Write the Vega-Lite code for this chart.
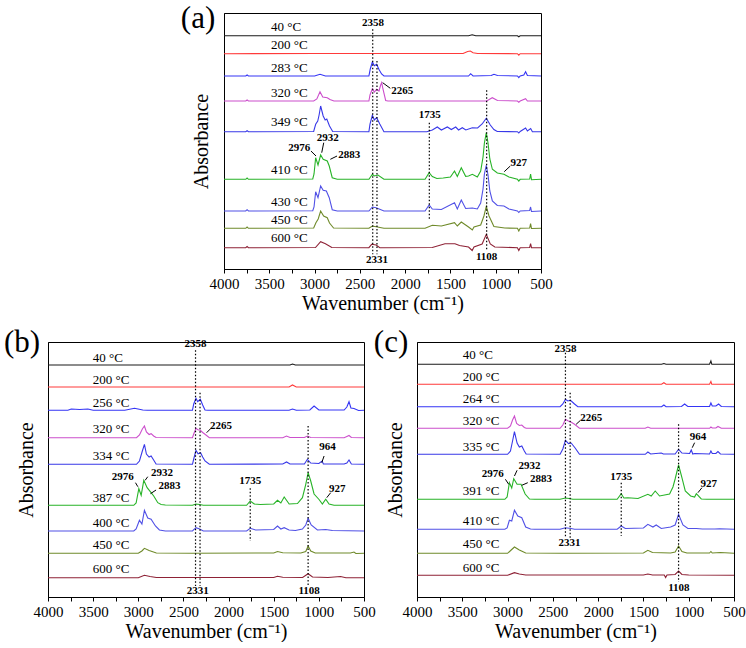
{
"$schema": "https://vega.github.io/schema/vega-lite/v6.json",
"background": "white",
"padding": {"left": 3, "top": 2, "right": 0, "bottom": 0},
"spacing": 12,
"config": {
  "font": "Liberation Serif, Times New Roman, serif",
  "axis": {"grid": false, "domainColor": "black", "tickColor": "black", "labelColor": "black", "titleColor": "black", "labelFont": "Liberation Serif, Times New Roman, serif", "titleFont": "Liberation Serif, Times New Roman, serif", "labelFontSize": 15, "titleFontSize": 20, "titleFontWeight": "normal"},
  "text": {"font": "Liberation Serif, Times New Roman, serif", "color": "black"}
},
"datasets": {
"spec": [
{"p":"a","k":1,"x":4000,"y":233.3},{"p":"a","k":1,"x":1300,"y":233.3},{"p":"a","k":1,"x":1260,"y":234.3},{"p":"a","k":1,"x":1220,"y":233.3},{"p":"a","k":1,"x":760,"y":233.3},{"p":"a","k":1,"x":745,"y":232.3},{"p":"a","k":1,"x":730,"y":233.3},{"p":"a","k":1,"x":500,"y":233.3},
{"p":"a","k":2,"x":4000,"y":215.3},{"p":"a","k":2,"x":3000,"y":215.5},{"p":"a","k":2,"x":1360,"y":215.5},{"p":"a","k":2,"x":1310,"y":217.5},{"p":"a","k":2,"x":1280,"y":218},{"p":"a","k":2,"x":1250,"y":216.3},{"p":"a","k":2,"x":1200,"y":215.5},{"p":"a","k":2,"x":760,"y":215.3},{"p":"a","k":2,"x":745,"y":213.8},{"p":"a","k":2,"x":730,"y":215.3},{"p":"a","k":2,"x":500,"y":215.3},
{"p":"a","k":3,"x":4000,"y":193},{"p":"a","k":3,"x":3760,"y":193},{"p":"a","k":3,"x":3745,"y":194},{"p":"a","k":3,"x":3730,"y":193},{"p":"a","k":3,"x":3000,"y":193},{"p":"a","k":3,"x":2940,"y":194.7},{"p":"a","k":3,"x":2880,"y":193},{"p":"a","k":3,"x":2400,"y":193},{"p":"a","k":3,"x":2385,"y":200},{"p":"a","k":3,"x":2362,"y":207},{"p":"a","k":3,"x":2340,"y":203.3},{"p":"a","k":3,"x":2315,"y":204.7},{"p":"a","k":3,"x":2290,"y":199.7},{"p":"a","k":3,"x":2260,"y":195},{"p":"a","k":3,"x":2234,"y":193},{"p":"a","k":3,"x":1300,"y":193},{"p":"a","k":3,"x":1277,"y":195.3},{"p":"a","k":3,"x":1250,"y":193},{"p":"a","k":3,"x":1050,"y":193.5},{"p":"a","k":3,"x":1019,"y":194.7},{"p":"a","k":3,"x":980,"y":193.5},{"p":"a","k":3,"x":760,"y":193},{"p":"a","k":3,"x":745,"y":191.3},{"p":"a","k":3,"x":730,"y":193},{"p":"a","k":3,"x":690,"y":194},{"p":"a","k":3,"x":670,"y":197.3},{"p":"a","k":3,"x":650,"y":193.5},{"p":"a","k":3,"x":500,"y":193},
{"p":"a","k":4,"x":4000,"y":168},{"p":"a","k":4,"x":3760,"y":168},{"p":"a","k":4,"x":3745,"y":169},{"p":"a","k":4,"x":3730,"y":168},{"p":"a","k":4,"x":3010,"y":168},{"p":"a","k":4,"x":2975,"y":170},{"p":"a","k":4,"x":2940,"y":177.3},{"p":"a","k":4,"x":2910,"y":172},{"p":"a","k":4,"x":2860,"y":171.3},{"p":"a","k":4,"x":2830,"y":169.5},{"p":"a","k":4,"x":2786,"y":168},{"p":"a","k":4,"x":2400,"y":168},{"p":"a","k":4,"x":2388,"y":174},{"p":"a","k":4,"x":2362,"y":180.3},{"p":"a","k":4,"x":2340,"y":177},{"p":"a","k":4,"x":2315,"y":179.7},{"p":"a","k":4,"x":2289,"y":178},{"p":"a","k":4,"x":2270,"y":184},{"p":"a","k":4,"x":2259,"y":186.3},{"p":"a","k":4,"x":2245,"y":180},{"p":"a","k":4,"x":2215,"y":168.5},{"p":"a","k":4,"x":2190,"y":168},{"p":"a","k":4,"x":1100,"y":168},{"p":"a","k":4,"x":1038,"y":171.3},{"p":"a","k":4,"x":980,"y":168.5},{"p":"a","k":4,"x":760,"y":168},{"p":"a","k":4,"x":745,"y":166.7},{"p":"a","k":4,"x":730,"y":168},{"p":"a","k":4,"x":670,"y":170.3},{"p":"a","k":4,"x":650,"y":168},{"p":"a","k":4,"x":500,"y":168},
{"p":"a","k":5,"x":4000,"y":137.3},{"p":"a","k":5,"x":3760,"y":137.3},{"p":"a","k":5,"x":3745,"y":138.3},{"p":"a","k":5,"x":3730,"y":137.3},{"p":"a","k":5,"x":3010,"y":137.5},{"p":"a","k":5,"x":2988,"y":144.7},{"p":"a","k":5,"x":2965,"y":148},{"p":"a","k":5,"x":2950,"y":154},{"p":"a","k":5,"x":2933,"y":163},{"p":"a","k":5,"x":2905,"y":153},{"p":"a","k":5,"x":2883,"y":149},{"p":"a","k":5,"x":2865,"y":150},{"p":"a","k":5,"x":2835,"y":143},{"p":"a","k":5,"x":2800,"y":137.5},{"p":"a","k":5,"x":2400,"y":137.3},{"p":"a","k":5,"x":2388,"y":145},{"p":"a","k":5,"x":2362,"y":153.7},{"p":"a","k":5,"x":2340,"y":149},{"p":"a","k":5,"x":2315,"y":151.3},{"p":"a","k":5,"x":2280,"y":145},{"p":"a","k":5,"x":2234,"y":137.3},{"p":"a","k":5,"x":1760,"y":137.3},{"p":"a","k":5,"x":1700,"y":139},{"p":"a","k":5,"x":1645,"y":142},{"p":"a","k":5,"x":1600,"y":139},{"p":"a","k":5,"x":1534,"y":142},{"p":"a","k":5,"x":1490,"y":139.5},{"p":"a","k":5,"x":1442,"y":142},{"p":"a","k":5,"x":1410,"y":139},{"p":"a","k":5,"x":1369,"y":141.3},{"p":"a","k":5,"x":1330,"y":139},{"p":"a","k":5,"x":1258,"y":141.3},{"p":"a","k":5,"x":1200,"y":141},{"p":"a","k":5,"x":1150,"y":145},{"p":"a","k":5,"x":1104,"y":150.7},{"p":"a","k":5,"x":1060,"y":144},{"p":"a","k":5,"x":1020,"y":139.5},{"p":"a","k":5,"x":983,"y":137.5},{"p":"a","k":5,"x":760,"y":137.3},{"p":"a","k":5,"x":745,"y":136},{"p":"a","k":5,"x":730,"y":137.5},{"p":"a","k":5,"x":670,"y":141},{"p":"a","k":5,"x":650,"y":138},{"p":"a","k":5,"x":614,"y":140.5},{"p":"a","k":5,"x":595,"y":137.3},{"p":"a","k":5,"x":500,"y":137.3},
{"p":"a","k":6,"x":4000,"y":89.7},{"p":"a","k":6,"x":3760,"y":89.7},{"p":"a","k":6,"x":3745,"y":91},{"p":"a","k":6,"x":3730,"y":89.7},{"p":"a","k":6,"x":3020,"y":90},{"p":"a","k":6,"x":3006,"y":95},{"p":"a","k":6,"x":2988,"y":111.3},{"p":"a","k":6,"x":2962,"y":104},{"p":"a","k":6,"x":2933,"y":114},{"p":"a","k":6,"x":2905,"y":109.7},{"p":"a","k":6,"x":2860,"y":108},{"p":"a","k":6,"x":2838,"y":103},{"p":"a","k":6,"x":2805,"y":91.3},{"p":"a","k":6,"x":2750,"y":89.7},{"p":"a","k":6,"x":2400,"y":89.7},{"p":"a","k":6,"x":2362,"y":94.7},{"p":"a","k":6,"x":2340,"y":93},{"p":"a","k":6,"x":2300,"y":94},{"p":"a","k":6,"x":2234,"y":89.7},{"p":"a","k":6,"x":1780,"y":89.7},{"p":"a","k":6,"x":1735,"y":96.3},{"p":"a","k":6,"x":1700,"y":92.5},{"p":"a","k":6,"x":1650,"y":90.5},{"p":"a","k":6,"x":1580,"y":91},{"p":"a","k":6,"x":1500,"y":92},{"p":"a","k":6,"x":1455,"y":98},{"p":"a","k":6,"x":1424,"y":92.5},{"p":"a","k":6,"x":1380,"y":101.3},{"p":"a","k":6,"x":1332,"y":92.7},{"p":"a","k":6,"x":1300,"y":93},{"p":"a","k":6,"x":1258,"y":94.7},{"p":"a","k":6,"x":1203,"y":92},{"p":"a","k":6,"x":1166,"y":98},{"p":"a","k":6,"x":1140,"y":112},{"p":"a","k":6,"x":1125,"y":126},{"p":"a","k":6,"x":1104,"y":136.3},{"p":"a","k":6,"x":1085,"y":126},{"p":"a","k":6,"x":1065,"y":110},{"p":"a","k":6,"x":1037,"y":99.7},{"p":"a","k":6,"x":982,"y":96},{"p":"a","k":6,"x":909,"y":94.7},{"p":"a","k":6,"x":854,"y":92},{"p":"a","k":6,"x":760,"y":89.7},{"p":"a","k":6,"x":745,"y":88},{"p":"a","k":6,"x":730,"y":89.7},{"p":"a","k":6,"x":625,"y":90},{"p":"a","k":6,"x":615,"y":95},{"p":"a","k":6,"x":605,"y":89.3},{"p":"a","k":6,"x":500,"y":89.7},
{"p":"a","k":7,"x":4000,"y":58},{"p":"a","k":7,"x":3760,"y":58},{"p":"a","k":7,"x":3745,"y":59.3},{"p":"a","k":7,"x":3730,"y":58},{"p":"a","k":7,"x":3020,"y":58.3},{"p":"a","k":7,"x":3006,"y":62},{"p":"a","k":7,"x":2988,"y":77.3},{"p":"a","k":7,"x":2962,"y":71.3},{"p":"a","k":7,"x":2933,"y":83},{"p":"a","k":7,"x":2905,"y":78.7},{"p":"a","k":7,"x":2870,"y":78},{"p":"a","k":7,"x":2838,"y":71.3},{"p":"a","k":7,"x":2805,"y":59.3},{"p":"a","k":7,"x":2750,"y":58},{"p":"a","k":7,"x":2400,"y":58},{"p":"a","k":7,"x":2362,"y":62},{"p":"a","k":7,"x":2320,"y":61.3},{"p":"a","k":7,"x":2234,"y":58},{"p":"a","k":7,"x":1780,"y":58},{"p":"a","k":7,"x":1735,"y":64},{"p":"a","k":7,"x":1700,"y":60},{"p":"a","k":7,"x":1600,"y":59.5},{"p":"a","k":7,"x":1455,"y":66.3},{"p":"a","k":7,"x":1424,"y":60},{"p":"a","k":7,"x":1380,"y":69},{"p":"a","k":7,"x":1332,"y":60.5},{"p":"a","k":7,"x":1258,"y":61},{"p":"a","k":7,"x":1203,"y":60},{"p":"a","k":7,"x":1166,"y":66},{"p":"a","k":7,"x":1140,"y":80},{"p":"a","k":7,"x":1125,"y":95},{"p":"a","k":7,"x":1104,"y":103.7},{"p":"a","k":7,"x":1085,"y":94},{"p":"a","k":7,"x":1065,"y":78},{"p":"a","k":7,"x":1037,"y":68},{"p":"a","k":7,"x":982,"y":63.5},{"p":"a","k":7,"x":909,"y":63},{"p":"a","k":7,"x":854,"y":60},{"p":"a","k":7,"x":760,"y":58},{"p":"a","k":7,"x":745,"y":56.5},{"p":"a","k":7,"x":730,"y":58},{"p":"a","k":7,"x":625,"y":58.5},{"p":"a","k":7,"x":615,"y":62},{"p":"a","k":7,"x":605,"y":57.5},{"p":"a","k":7,"x":500,"y":58},
{"p":"a","k":8,"x":4000,"y":40.7},{"p":"a","k":8,"x":3760,"y":40.7},{"p":"a","k":8,"x":3745,"y":42},{"p":"a","k":8,"x":3730,"y":40.7},{"p":"a","k":8,"x":3010,"y":41},{"p":"a","k":8,"x":2985,"y":46.3},{"p":"a","k":8,"x":2960,"y":50},{"p":"a","k":8,"x":2933,"y":58},{"p":"a","k":8,"x":2900,"y":53},{"p":"a","k":8,"x":2860,"y":51.3},{"p":"a","k":8,"x":2835,"y":46},{"p":"a","k":8,"x":2790,"y":41},{"p":"a","k":8,"x":2400,"y":40.7},{"p":"a","k":8,"x":2362,"y":43},{"p":"a","k":8,"x":2320,"y":42.3},{"p":"a","k":8,"x":2234,"y":40.7},{"p":"a","k":8,"x":1780,"y":40.7},{"p":"a","k":8,"x":1700,"y":43.7},{"p":"a","k":8,"x":1600,"y":43},{"p":"a","k":8,"x":1455,"y":46.3},{"p":"a","k":8,"x":1424,"y":43},{"p":"a","k":8,"x":1380,"y":47},{"p":"a","k":8,"x":1300,"y":42},{"p":"a","k":8,"x":1258,"y":39},{"p":"a","k":8,"x":1240,"y":42},{"p":"a","k":8,"x":1166,"y":44},{"p":"a","k":8,"x":1130,"y":53},{"p":"a","k":8,"x":1104,"y":62.7},{"p":"a","k":8,"x":1074,"y":53},{"p":"a","k":8,"x":1020,"y":42.5},{"p":"a","k":8,"x":900,"y":41},{"p":"a","k":8,"x":760,"y":40.7},{"p":"a","k":8,"x":745,"y":38},{"p":"a","k":8,"x":730,"y":40.7},{"p":"a","k":8,"x":625,"y":41},{"p":"a","k":8,"x":615,"y":45.3},{"p":"a","k":8,"x":605,"y":40.5},{"p":"a","k":8,"x":500,"y":40.7},
{"p":"a","k":9,"x":4000,"y":21.3},{"p":"a","k":9,"x":3760,"y":21.3},{"p":"a","k":9,"x":3745,"y":22.5},{"p":"a","k":9,"x":3730,"y":21.3},{"p":"a","k":9,"x":2990,"y":21.5},{"p":"a","k":9,"x":2933,"y":27.3},{"p":"a","k":9,"x":2880,"y":25.3},{"p":"a","k":9,"x":2810,"y":21.5},{"p":"a","k":9,"x":2400,"y":21.3},{"p":"a","k":9,"x":2370,"y":24.7},{"p":"a","k":9,"x":2320,"y":24},{"p":"a","k":9,"x":2280,"y":21.3},{"p":"a","k":9,"x":1700,"y":21.5},{"p":"a","k":9,"x":1560,"y":25.3},{"p":"a","k":9,"x":1450,"y":25.3},{"p":"a","k":9,"x":1400,"y":23.5},{"p":"a","k":9,"x":1300,"y":22},{"p":"a","k":9,"x":1260,"y":18.5},{"p":"a","k":9,"x":1240,"y":22},{"p":"a","k":9,"x":1150,"y":25},{"p":"a","k":9,"x":1104,"y":34.7},{"p":"a","k":9,"x":1060,"y":25},{"p":"a","k":9,"x":1010,"y":22},{"p":"a","k":9,"x":760,"y":21.3},{"p":"a","k":9,"x":745,"y":18.5},{"p":"a","k":9,"x":730,"y":21.3},{"p":"a","k":9,"x":625,"y":21.5},{"p":"a","k":9,"x":615,"y":25.3},{"p":"a","k":9,"x":605,"y":21.3},{"p":"a","k":9,"x":500,"y":21.3},

{"p":"b","k":1,"x":4000,"y":232},{"p":"b","k":1,"x":1320,"y":232},{"p":"b","k":1,"x":1292,"y":233},{"p":"b","k":1,"x":1260,"y":232},{"p":"b","k":1,"x":500,"y":232},
{"p":"b","k":2,"x":4000,"y":210},{"p":"b","k":2,"x":1330,"y":210},{"p":"b","k":2,"x":1292,"y":212},{"p":"b","k":2,"x":1250,"y":210},{"p":"b","k":2,"x":500,"y":210},
{"p":"b","k":3,"x":4000,"y":186.7},{"p":"b","k":3,"x":3780,"y":186.7},{"p":"b","k":3,"x":3742,"y":188},{"p":"b","k":3,"x":3650,"y":187.5},{"p":"b","k":3,"x":3558,"y":188},{"p":"b","k":3,"x":3500,"y":186.7},{"p":"b","k":3,"x":3150,"y":186.7},{"p":"b","k":3,"x":3042,"y":188.7},{"p":"b","k":3,"x":2950,"y":187},{"p":"b","k":3,"x":2900,"y":186.7},{"p":"b","k":3,"x":2400,"y":186.7},{"p":"b","k":3,"x":2386,"y":193},{"p":"b","k":3,"x":2361,"y":198.7},{"p":"b","k":3,"x":2342,"y":195.3},{"p":"b","k":3,"x":2313,"y":197.7},{"p":"b","k":3,"x":2287,"y":192},{"p":"b","k":3,"x":2261,"y":187},{"p":"b","k":3,"x":2230,"y":186.7},{"p":"b","k":3,"x":1330,"y":186.7},{"p":"b","k":3,"x":1292,"y":188},{"p":"b","k":3,"x":1250,"y":186.7},{"p":"b","k":3,"x":1100,"y":187},{"p":"b","k":3,"x":1053,"y":191},{"p":"b","k":3,"x":1000,"y":187},{"p":"b","k":3,"x":720,"y":187},{"p":"b","k":3,"x":690,"y":190},{"p":"b","k":3,"x":666,"y":195.3},{"p":"b","k":3,"x":645,"y":189},{"p":"b","k":3,"x":611,"y":188.5},{"p":"b","k":3,"x":560,"y":186.5},{"p":"b","k":3,"x":500,"y":186.7},
{"p":"b","k":4,"x":4000,"y":159.3},{"p":"b","k":4,"x":3020,"y":159.3},{"p":"b","k":4,"x":2987,"y":162},{"p":"b","k":4,"x":2955,"y":168},{"p":"b","k":4,"x":2932,"y":171},{"p":"b","k":4,"x":2910,"y":165},{"p":"b","k":4,"x":2880,"y":162.5},{"p":"b","k":4,"x":2858,"y":163.3},{"p":"b","k":4,"x":2830,"y":161},{"p":"b","k":4,"x":2803,"y":159.5},{"p":"b","k":4,"x":2400,"y":159.3},{"p":"b","k":4,"x":2386,"y":163},{"p":"b","k":4,"x":2361,"y":168.7},{"p":"b","k":4,"x":2340,"y":167.3},{"p":"b","k":4,"x":2313,"y":166.7},{"p":"b","k":4,"x":2287,"y":164.5},{"p":"b","k":4,"x":2261,"y":162.7},{"p":"b","k":4,"x":2213,"y":159.3},{"p":"b","k":4,"x":1400,"y":159.3},{"p":"b","k":4,"x":1358,"y":161},{"p":"b","k":4,"x":1320,"y":159.5},{"p":"b","k":4,"x":1160,"y":159.5},{"p":"b","k":4,"x":1127,"y":161},{"p":"b","k":4,"x":1090,"y":159.5},{"p":"b","k":4,"x":720,"y":159.3},{"p":"b","k":4,"x":690,"y":160.5},{"p":"b","k":4,"x":666,"y":161.5},{"p":"b","k":4,"x":640,"y":159.5},{"p":"b","k":4,"x":500,"y":159.3},
{"p":"b","k":5,"x":4000,"y":132.7},{"p":"b","k":5,"x":3020,"y":132.7},{"p":"b","k":5,"x":2987,"y":136},{"p":"b","k":5,"x":2955,"y":146},{"p":"b","k":5,"x":2932,"y":152.7},{"p":"b","k":5,"x":2910,"y":143},{"p":"b","k":5,"x":2880,"y":140},{"p":"b","k":5,"x":2858,"y":141},{"p":"b","k":5,"x":2830,"y":137},{"p":"b","k":5,"x":2803,"y":133},{"p":"b","k":5,"x":2400,"y":132.7},{"p":"b","k":5,"x":2386,"y":138},{"p":"b","k":5,"x":2361,"y":146.7},{"p":"b","k":5,"x":2338,"y":143.3},{"p":"b","k":5,"x":2310,"y":144.3},{"p":"b","k":5,"x":2287,"y":140},{"p":"b","k":5,"x":2261,"y":136},{"p":"b","k":5,"x":2213,"y":132.7},{"p":"b","k":5,"x":1400,"y":133},{"p":"b","k":5,"x":1358,"y":135},{"p":"b","k":5,"x":1320,"y":133},{"p":"b","k":5,"x":1160,"y":133},{"p":"b","k":5,"x":1127,"y":137.7},{"p":"b","k":5,"x":1090,"y":134},{"p":"b","k":5,"x":1000,"y":133.5},{"p":"b","k":5,"x":964,"y":136},{"p":"b","k":5,"x":950,"y":133},{"p":"b","k":5,"x":720,"y":133},{"p":"b","k":5,"x":690,"y":134},{"p":"b","k":5,"x":666,"y":137},{"p":"b","k":5,"x":640,"y":133},{"p":"b","k":5,"x":500,"y":132.7},
{"p":"b","k":6,"x":4000,"y":91.7},{"p":"b","k":6,"x":3050,"y":91.7},{"p":"b","k":6,"x":3024,"y":94},{"p":"b","k":6,"x":2994,"y":108.3},{"p":"b","k":6,"x":2968,"y":101.7},{"p":"b","k":6,"x":2939,"y":116.7},{"p":"b","k":6,"x":2902,"y":109.3},{"p":"b","k":6,"x":2858,"y":104.3},{"p":"b","k":6,"x":2829,"y":101},{"p":"b","k":6,"x":2784,"y":94.3},{"p":"b","k":6,"x":2747,"y":92.5},{"p":"b","k":6,"x":2700,"y":92},{"p":"b","k":6,"x":2400,"y":91.7},{"p":"b","k":6,"x":2361,"y":93},{"p":"b","k":6,"x":2320,"y":92.5},{"p":"b","k":6,"x":2280,"y":91.7},{"p":"b","k":6,"x":1800,"y":91.7},{"p":"b","k":6,"x":1760,"y":96},{"p":"b","k":6,"x":1716,"y":93},{"p":"b","k":6,"x":1650,"y":92.5},{"p":"b","k":6,"x":1500,"y":93},{"p":"b","k":6,"x":1458,"y":96.7},{"p":"b","k":6,"x":1421,"y":94},{"p":"b","k":6,"x":1384,"y":100},{"p":"b","k":6,"x":1329,"y":93},{"p":"b","k":6,"x":1237,"y":93.5},{"p":"b","k":6,"x":1182,"y":99.3},{"p":"b","k":6,"x":1145,"y":112.7},{"p":"b","k":6,"x":1119,"y":124.3},{"p":"b","k":6,"x":1090,"y":116},{"p":"b","k":6,"x":1053,"y":103},{"p":"b","k":6,"x":998,"y":97.5},{"p":"b","k":6,"x":961,"y":93},{"p":"b","k":6,"x":924,"y":97.7},{"p":"b","k":6,"x":887,"y":93},{"p":"b","k":6,"x":832,"y":91.7},{"p":"b","k":6,"x":500,"y":91.7},
{"p":"b","k":7,"x":4000,"y":66},{"p":"b","k":7,"x":3050,"y":66},{"p":"b","k":7,"x":3024,"y":68},{"p":"b","k":7,"x":2987,"y":76.7},{"p":"b","k":7,"x":2960,"y":73},{"p":"b","k":7,"x":2932,"y":86.7},{"p":"b","k":7,"x":2895,"y":79},{"p":"b","k":7,"x":2858,"y":77.7},{"p":"b","k":7,"x":2810,"y":71},{"p":"b","k":7,"x":2766,"y":67},{"p":"b","k":7,"x":2700,"y":66},{"p":"b","k":7,"x":2400,"y":66},{"p":"b","k":7,"x":2361,"y":69.3},{"p":"b","k":7,"x":2320,"y":68},{"p":"b","k":7,"x":2280,"y":66},{"p":"b","k":7,"x":1800,"y":66},{"p":"b","k":7,"x":1760,"y":68.7},{"p":"b","k":7,"x":1700,"y":67},{"p":"b","k":7,"x":1500,"y":67.5},{"p":"b","k":7,"x":1458,"y":71},{"p":"b","k":7,"x":1421,"y":68},{"p":"b","k":7,"x":1384,"y":69.3},{"p":"b","k":7,"x":1330,"y":67},{"p":"b","k":7,"x":1260,"y":66.5},{"p":"b","k":7,"x":1182,"y":68},{"p":"b","k":7,"x":1145,"y":72},{"p":"b","k":7,"x":1119,"y":78.7},{"p":"b","k":7,"x":1085,"y":72},{"p":"b","k":7,"x":1016,"y":67},{"p":"b","k":7,"x":924,"y":67.5},{"p":"b","k":7,"x":850,"y":66.5},{"p":"b","k":7,"x":500,"y":66},
{"p":"b","k":8,"x":4000,"y":43.7},{"p":"b","k":8,"x":3000,"y":43.7},{"p":"b","k":8,"x":2960,"y":46},{"p":"b","k":8,"x":2932,"y":48.7},{"p":"b","k":8,"x":2880,"y":46.5},{"p":"b","k":8,"x":2800,"y":44},{"p":"b","k":8,"x":2400,"y":43.7},{"p":"b","k":8,"x":1500,"y":44},{"p":"b","k":8,"x":1458,"y":45.5},{"p":"b","k":8,"x":1400,"y":44.3},{"p":"b","k":8,"x":1200,"y":44},{"p":"b","k":8,"x":1145,"y":45.5},{"p":"b","k":8,"x":1119,"y":51},{"p":"b","k":8,"x":1090,"y":46},{"p":"b","k":8,"x":1040,"y":44},{"p":"b","k":8,"x":650,"y":44},{"p":"b","k":8,"x":611,"y":45},{"p":"b","k":8,"x":590,"y":43.5},{"p":"b","k":8,"x":500,"y":43.7},
{"p":"b","k":9,"x":4000,"y":19.3},{"p":"b","k":9,"x":3000,"y":19.3},{"p":"b","k":9,"x":2932,"y":21.7},{"p":"b","k":9,"x":2870,"y":20.5},{"p":"b","k":9,"x":2800,"y":19.5},{"p":"b","k":9,"x":1500,"y":19.5},{"p":"b","k":9,"x":1458,"y":20.8},{"p":"b","k":9,"x":1400,"y":19.8},{"p":"b","k":9,"x":1180,"y":19.5},{"p":"b","k":9,"x":1119,"y":23.3},{"p":"b","k":9,"x":1070,"y":20},{"p":"b","k":9,"x":900,"y":19.5},{"p":"b","k":9,"x":760,"y":20.5},{"p":"b","k":9,"x":700,"y":19.3},{"p":"b","k":9,"x":500,"y":19.3},

{"p":"c","k":1,"x":4000,"y":232.7},{"p":"c","k":1,"x":1300,"y":232.7},{"p":"c","k":1,"x":1274,"y":233.5},{"p":"c","k":1,"x":1250,"y":232.7},{"p":"c","k":1,"x":770,"y":232.7},{"p":"c","k":1,"x":755,"y":236},{"p":"c","k":1,"x":745,"y":232.7},{"p":"c","k":1,"x":500,"y":232.7},
{"p":"c","k":2,"x":4000,"y":212.7},{"p":"c","k":2,"x":1300,"y":212.7},{"p":"c","k":2,"x":1274,"y":214.3},{"p":"c","k":2,"x":1250,"y":212.7},{"p":"c","k":2,"x":770,"y":212.7},{"p":"c","k":2,"x":755,"y":215.5},{"p":"c","k":2,"x":745,"y":212.7},{"p":"c","k":2,"x":500,"y":212.7},
{"p":"c","k":3,"x":4000,"y":190.3},{"p":"c","k":3,"x":2420,"y":190.3},{"p":"c","k":3,"x":2390,"y":193},{"p":"c","k":3,"x":2361,"y":197.7},{"p":"c","k":3,"x":2335,"y":196},{"p":"c","k":3,"x":2305,"y":196.7},{"p":"c","k":3,"x":2261,"y":193},{"p":"c","k":3,"x":2224,"y":190.3},{"p":"c","k":3,"x":1300,"y":190.3},{"p":"c","k":3,"x":1274,"y":192},{"p":"c","k":3,"x":1250,"y":190.3},{"p":"c","k":3,"x":1080,"y":190.5},{"p":"c","k":3,"x":1045,"y":193},{"p":"c","k":3,"x":1010,"y":190.5},{"p":"c","k":3,"x":770,"y":190.5},{"p":"c","k":3,"x":755,"y":194},{"p":"c","k":3,"x":740,"y":191},{"p":"c","k":3,"x":700,"y":191},{"p":"c","k":3,"x":670,"y":193},{"p":"c","k":3,"x":640,"y":190.5},{"p":"c","k":3,"x":500,"y":190.3},
{"p":"c","k":4,"x":4000,"y":168.7},{"p":"c","k":4,"x":3000,"y":168.7},{"p":"c","k":4,"x":2968,"y":171},{"p":"c","k":4,"x":2945,"y":177},{"p":"c","k":4,"x":2924,"y":181},{"p":"c","k":4,"x":2900,"y":173.5},{"p":"c","k":4,"x":2870,"y":171.5},{"p":"c","k":4,"x":2843,"y":172},{"p":"c","k":4,"x":2815,"y":169.5},{"p":"c","k":4,"x":2795,"y":168.7},{"p":"c","k":4,"x":2420,"y":168.7},{"p":"c","k":4,"x":2390,"y":172},{"p":"c","k":4,"x":2361,"y":177.7},{"p":"c","k":4,"x":2330,"y":176},{"p":"c","k":4,"x":2300,"y":175},{"p":"c","k":4,"x":2261,"y":172.7},{"p":"c","k":4,"x":2206,"y":168.7},{"p":"c","k":4,"x":1480,"y":168.7},{"p":"c","k":4,"x":1451,"y":170},{"p":"c","k":4,"x":1420,"y":168.7},{"p":"c","k":4,"x":770,"y":168.7},{"p":"c","k":4,"x":755,"y":170},{"p":"c","k":4,"x":740,"y":169},{"p":"c","k":4,"x":700,"y":169},{"p":"c","k":4,"x":677,"y":170.5},{"p":"c","k":4,"x":640,"y":168.8},{"p":"c","k":4,"x":500,"y":168.7},
{"p":"c","k":5,"x":4000,"y":142.7},{"p":"c","k":5,"x":3000,"y":142.7},{"p":"c","k":5,"x":2968,"y":146},{"p":"c","k":5,"x":2945,"y":156},{"p":"c","k":5,"x":2924,"y":165.3},{"p":"c","k":5,"x":2895,"y":154},{"p":"c","k":5,"x":2870,"y":150},{"p":"c","k":5,"x":2843,"y":151},{"p":"c","k":5,"x":2815,"y":146},{"p":"c","k":5,"x":2795,"y":143},{"p":"c","k":5,"x":2420,"y":142.7},{"p":"c","k":5,"x":2390,"y":148},{"p":"c","k":5,"x":2361,"y":156.7},{"p":"c","k":5,"x":2327,"y":153.3},{"p":"c","k":5,"x":2298,"y":154},{"p":"c","k":5,"x":2254,"y":149},{"p":"c","k":5,"x":2206,"y":142.7},{"p":"c","k":5,"x":1480,"y":142.7},{"p":"c","k":5,"x":1451,"y":145},{"p":"c","k":5,"x":1420,"y":143},{"p":"c","k":5,"x":1303,"y":144},{"p":"c","k":5,"x":1280,"y":143},{"p":"c","k":5,"x":1150,"y":143},{"p":"c","k":5,"x":1112,"y":147.7},{"p":"c","k":5,"x":1075,"y":144},{"p":"c","k":5,"x":990,"y":143.5},{"p":"c","k":5,"x":972,"y":147},{"p":"c","k":5,"x":955,"y":143},{"p":"c","k":5,"x":935,"y":143.5},{"p":"c","k":5,"x":770,"y":143},{"p":"c","k":5,"x":755,"y":146},{"p":"c","k":5,"x":740,"y":143.5},{"p":"c","k":5,"x":700,"y":143.5},{"p":"c","k":5,"x":677,"y":145.5},{"p":"c","k":5,"x":650,"y":143},{"p":"c","k":5,"x":500,"y":142.7},
{"p":"c","k":6,"x":4000,"y":97.7},{"p":"c","k":6,"x":3030,"y":97.7},{"p":"c","k":6,"x":3005,"y":100},{"p":"c","k":6,"x":2980,"y":114.3},{"p":"c","k":6,"x":2954,"y":109},{"p":"c","k":6,"x":2932,"y":118.3},{"p":"c","k":6,"x":2895,"y":112.7},{"p":"c","k":6,"x":2851,"y":112.7},{"p":"c","k":6,"x":2806,"y":103},{"p":"c","k":6,"x":2758,"y":98},{"p":"c","k":6,"x":2700,"y":97.7},{"p":"c","k":6,"x":2420,"y":97.7},{"p":"c","k":6,"x":2361,"y":99},{"p":"c","k":6,"x":2320,"y":98.5},{"p":"c","k":6,"x":2280,"y":97.7},{"p":"c","k":6,"x":1790,"y":97.7},{"p":"c","k":6,"x":1745,"y":103.3},{"p":"c","k":6,"x":1716,"y":99},{"p":"c","k":6,"x":1672,"y":99.3},{"p":"c","k":6,"x":1560,"y":98.5},{"p":"c","k":6,"x":1451,"y":102.7},{"p":"c","k":6,"x":1414,"y":101},{"p":"c","k":6,"x":1370,"y":106},{"p":"c","k":6,"x":1322,"y":101},{"p":"c","k":6,"x":1211,"y":103},{"p":"c","k":6,"x":1174,"y":110},{"p":"c","k":6,"x":1150,"y":118},{"p":"c","k":6,"x":1112,"y":132},{"p":"c","k":6,"x":1075,"y":119.3},{"p":"c","k":6,"x":1038,"y":106},{"p":"c","k":6,"x":979,"y":101},{"p":"c","k":6,"x":935,"y":100},{"p":"c","k":6,"x":916,"y":103.3},{"p":"c","k":6,"x":861,"y":98},{"p":"c","k":6,"x":800,"y":97.7},{"p":"c","k":6,"x":500,"y":97.7},
{"p":"c","k":7,"x":4000,"y":67.7},{"p":"c","k":7,"x":3030,"y":67.7},{"p":"c","k":7,"x":3005,"y":69},{"p":"c","k":7,"x":2980,"y":76.7},{"p":"c","k":7,"x":2954,"y":76},{"p":"c","k":7,"x":2924,"y":86.7},{"p":"c","k":7,"x":2887,"y":81},{"p":"c","k":7,"x":2843,"y":79.3},{"p":"c","k":7,"x":2800,"y":70},{"p":"c","k":7,"x":2747,"y":68},{"p":"c","k":7,"x":2700,"y":67.7},{"p":"c","k":7,"x":2420,"y":67.7},{"p":"c","k":7,"x":2361,"y":69.3},{"p":"c","k":7,"x":2300,"y":68.5},{"p":"c","k":7,"x":2260,"y":67.7},{"p":"c","k":7,"x":1790,"y":67.7},{"p":"c","k":7,"x":1745,"y":71},{"p":"c","k":7,"x":1700,"y":68.5},{"p":"c","k":7,"x":1500,"y":69},{"p":"c","k":7,"x":1451,"y":72.7},{"p":"c","k":7,"x":1395,"y":70},{"p":"c","k":7,"x":1359,"y":72},{"p":"c","k":7,"x":1303,"y":68.5},{"p":"c","k":7,"x":1200,"y":70},{"p":"c","k":7,"x":1150,"y":72},{"p":"c","k":7,"x":1112,"y":82.7},{"p":"c","k":7,"x":1064,"y":72},{"p":"c","k":7,"x":1009,"y":68.5},{"p":"c","k":7,"x":916,"y":68.5},{"p":"c","k":7,"x":850,"y":68},{"p":"c","k":7,"x":714,"y":68},{"p":"c","k":7,"x":660,"y":68.2},{"p":"c","k":7,"x":500,"y":67.7},
{"p":"c","k":8,"x":4000,"y":43.7},{"p":"c","k":8,"x":3000,"y":43.7},{"p":"c","k":8,"x":2960,"y":47},{"p":"c","k":8,"x":2924,"y":50},{"p":"c","k":8,"x":2870,"y":47},{"p":"c","k":8,"x":2800,"y":44},{"p":"c","k":8,"x":2400,"y":43.7},{"p":"c","k":8,"x":1500,"y":44},{"p":"c","k":8,"x":1451,"y":46.7},{"p":"c","k":8,"x":1400,"y":44.5},{"p":"c","k":8,"x":1200,"y":44},{"p":"c","k":8,"x":1150,"y":45},{"p":"c","k":8,"x":1112,"y":51},{"p":"c","k":8,"x":1075,"y":45.5},{"p":"c","k":8,"x":1020,"y":44},{"p":"c","k":8,"x":770,"y":44},{"p":"c","k":8,"x":755,"y":45.5},{"p":"c","k":8,"x":740,"y":44},{"p":"c","k":8,"x":650,"y":44.5},{"p":"c","k":8,"x":500,"y":43.7},
{"p":"c","k":9,"x":4000,"y":21.7},{"p":"c","k":9,"x":3000,"y":21.7},{"p":"c","k":9,"x":2924,"y":24.3},{"p":"c","k":9,"x":2870,"y":23},{"p":"c","k":9,"x":2800,"y":22},{"p":"c","k":9,"x":1500,"y":22},{"p":"c","k":9,"x":1451,"y":23},{"p":"c","k":9,"x":1400,"y":22},{"p":"c","k":9,"x":1270,"y":22},{"p":"c","k":9,"x":1255,"y":19.5},{"p":"c","k":9,"x":1240,"y":22},{"p":"c","k":9,"x":1150,"y":22.5},{"p":"c","k":9,"x":1112,"y":26},{"p":"c","k":9,"x":1075,"y":22.5},{"p":"c","k":9,"x":1000,"y":22},{"p":"c","k":9,"x":500,"y":21.7}
],
"vl": [
{"p":"a","x":2358,"y":239.7,"y2":14.7},{"p":"a","x":2311,"y":208,"y2":14.7},{"p":"a","x":1733,"y":146.3,"y2":49.7},{"p":"a","x":1100,"y":178.7,"y2":18},
{"p":"b","x":2366,"y":246.7,"y2":11},{"p":"b","x":2316,"y":204.3,"y2":11},{"p":"b","x":1760,"y":108.7,"y2":56},{"p":"b","x":1119,"y":171,"y2":11},
{"p":"c","x":2361,"y":244.3,"y2":59.3},{"p":"c","x":2309,"y":204.3,"y2":59.3},{"p":"c","x":1745,"y":114.3,"y2":61},{"p":"c","x":1112,"y":172.7,"y2":15}
],
"ar": [
{"p":"a","x":2248,"y":186.3,"x2":2164,"y2":180.7},{"p":"a","x":2921,"y":116.3,"x2":2899,"y2":126.3},{"p":"a","x":2984,"y":113,"x2":3040,"y2":118},{"p":"a","x":2826,"y":109.7,"x2":2752,"y2":113},{"p":"a","x":906,"y":97.3,"x2":839,"y2":103},
{"p":"b","x":2243,"y":164.3,"x2":2195,"y2":168.7},{"p":"b","x":968,"y":134.3,"x2":942,"y2":141},{"p":"b","x":3005,"y":110.3,"x2":3031,"y2":114.3},{"p":"b","x":2924,"y":116.7,"x2":2895,"y2":120.3},{"p":"b","x":2865,"y":103.3,"x2":2803,"y2":107},{"p":"b","x":913,"y":99.3,"x2":869,"y2":104.3},
{"p":"c","x":2243,"y":172.7,"x2":2195,"y2":176.7},{"p":"c","x":961,"y":149.3,"x2":935,"y2":154.3},{"p":"c","x":2987,"y":112.7,"x2":3024,"y2":117.7},{"p":"c","x":2924,"y":121,"x2":2895,"y2":126.7},{"p":"c","x":2843,"y":111.7,"x2":2777,"y2":114.3},{"p":"c","x":898,"y":104.3,"x2":854,"y2":109.3}
],
"pl": [
{"p":"a","x":2355,"y":246.3,"t":"2358"},{"p":"a","x":2311,"y":9.3,"t":"2331"},{"p":"a","x":1729,"y":153.7,"t":"1735"},{"p":"a","x":1100,"y":12,"t":"1108"},{"p":"a","x":2032,"y":177.7,"t":"2265"},{"p":"a","x":2855,"y":131,"t":"2932"},{"p":"a","x":3169,"y":121.3,"t":"2976"},{"p":"a","x":2617,"y":113.7,"t":"2883"},{"p":"a","x":746,"y":106,"t":"927"},
{"p":"b","x":2366,"y":252.7,"t":"2358"},{"p":"b","x":2342,"y":6,"t":"2331"},{"p":"b","x":1760,"y":116,"t":"1735"},{"p":"b","x":1108,"y":6,"t":"1108"},{"p":"b","x":2084,"y":171,"t":"2265"},{"p":"b","x":905,"y":150,"t":"964"},{"p":"b","x":3171,"y":120.3,"t":"2976"},{"p":"b","x":2736,"y":124.3,"t":"2932"},{"p":"b","x":2655,"y":111,"t":"2883"},{"p":"b","x":795,"y":107.7,"t":"927"},
{"p":"c","x":2361,"y":247.7,"t":"2358"},{"p":"c","x":2317,"y":53.7,"t":"2331"},{"p":"c","x":1745,"y":120.3,"t":"1735"},{"p":"c","x":1108,"y":9.3,"t":"1108"},{"p":"c","x":2077,"y":179.3,"t":"2265"},{"p":"c","x":898,"y":160,"t":"964"},{"p":"c","x":3164,"y":122.7,"t":"2976"},{"p":"c","x":2759,"y":131,"t":"2932"},{"p":"c","x":2630,"y":117.7,"t":"2883"},{"p":"c","x":780,"y":112.7,"t":"927"}
],
"tl": [
{"p":"a","x":3481,"y":242,"t":"40 °C"},{"p":"a","x":3481,"y":223.7,"t":"200 °C"},{"p":"a","x":3481,"y":201.3,"t":"283 °C"},{"p":"a","x":3481,"y":176.3,"t":"320 °C"},{"p":"a","x":3481,"y":147,"t":"349 °C"},{"p":"a","x":3481,"y":99,"t":"410 °C"},{"p":"a","x":3481,"y":67.3,"t":"430 °C"},{"p":"a","x":3481,"y":49.3,"t":"450 °C"},{"p":"a","x":3481,"y":30.7,"t":"600 °C"},
{"p":"b","x":3503,"y":239.3,"t":"40 °C"},{"p":"b","x":3503,"y":217,"t":"200 °C"},{"p":"b","x":3503,"y":194.3,"t":"256 °C"},{"p":"b","x":3503,"y":167.7,"t":"320 °C"},{"p":"b","x":3503,"y":141,"t":"334 °C"},{"p":"b","x":3503,"y":98.7,"t":"387 °C"},{"p":"b","x":3503,"y":74,"t":"400 °C"},{"p":"b","x":3503,"y":51.7,"t":"450 °C"},{"p":"b","x":3503,"y":28.3,"t":"600 °C"},
{"p":"c","x":3495,"y":241.7,"t":"40 °C"},{"p":"c","x":3495,"y":220,"t":"200 °C"},{"p":"c","x":3495,"y":197.7,"t":"264 °C"},{"p":"c","x":3495,"y":176,"t":"320 °C"},{"p":"c","x":3495,"y":150,"t":"335 °C"},{"p":"c","x":3495,"y":106,"t":"391 °C"},{"p":"c","x":3495,"y":76,"t":"410 °C"},{"p":"c","x":3495,"y":52.7,"t":"450 °C"},{"p":"c","x":3495,"y":29.3,"t":"600 °C"}
],
"pn": [
{"p":"a","x":4287,"y":250,"t":"(a)"},{"p":"b","x":4287,"y":254,"t":"(b)"},{"p":"c","x":4287,"y":254,"t":"(c)"}
]
},
"vconcat": [
{"hconcat": [
 {"width": 156, "height": 10, "view": {"stroke": null}, "data": {"values": []}, "mark": "point", "encoding": {}},
 {"width": 317, "height": 256, "view": {"stroke": "black", "strokeWidth": 1},
  "encoding": {
   "x": {"field": "x", "type": "quantitative", "scale": {"domain": [4000, 500]}, "axis": {"values": [4000,3750,3500,3250,3000,2750,2500,2250,2000,1750,1500,1250,1000,750,500], "format": "d", "labelExpr": "datum.value % 500 == 0 ? datum.label : ''", "title": "Wavenumber (cm⁻¹)", "tickSize": 4, "labelPadding": 3, "titlePadding": 2, "labelOverlap": false, "labelFlush": false}},
   "y": {"field": "y", "type": "quantitative", "scale": {"domain": [0, 256]}, "axis": {"title": "Absorbance", "labels": false, "ticks": false, "titlePadding": 13}}
  },
  "layer": [
   {"data": {"name": "spec"}, "transform": [{"filter": "datum.p == 'a'"}], "mark": {"type": "line", "strokeWidth": 1.1}, "encoding": {"color": {"field": "k", "type": "nominal", "scale": {"domain": [1,2,3,4,5,6,7,8,9], "range": ["#1a1a1a","#ff3a3a","#3535f5","#cc4fcc","#3838e8","#27b327","#5050e6","#6f8a2a","#8e2236"]}, "legend": null}}},
   {"data": {"name": "vl"}, "transform": [{"filter": "datum.p == 'a'"}], "mark": {"type": "rule", "color": "black", "strokeWidth": 1.2, "strokeDash": [1.5, 2]}, "encoding": {"y2": {"field": "y2"}}},
   {"data": {"name": "ar"}, "transform": [{"filter": "datum.p == 'a'"}], "mark": {"type": "rule", "color": "black", "strokeWidth": 1}, "encoding": {"x2": {"field": "x2"}, "y2": {"field": "y2"}}},
   {"data": {"name": "tl"}, "transform": [{"filter": "datum.p == 'a'"}], "mark": {"type": "text", "align": "left", "baseline": "middle", "fontSize": 13}, "encoding": {"text": {"field": "t"}}},
   {"data": {"name": "pl"}, "transform": [{"filter": "datum.p == 'a'"}], "mark": {"type": "text", "align": "center", "baseline": "middle", "fontSize": 11, "fontWeight": "bold"}, "encoding": {"text": {"field": "t"}}},
   {"data": {"name": "pn"}, "transform": [{"filter": "datum.p == 'a'"}], "mark": {"type": "text", "align": "center", "baseline": "middle", "fontSize": 31}, "encoding": {"text": {"field": "t"}}}
  ]
 }
], "bounds": "flush", "spacing": 20, "align": "none"},
{"hconcat": [
 {"width": 316, "height": 255, "view": {"stroke": "black", "strokeWidth": 1},
  "encoding": {
   "x": {"field": "x", "type": "quantitative", "scale": {"domain": [4000, 500]}, "axis": {"values": [4000,3750,3500,3250,3000,2750,2500,2250,2000,1750,1500,1250,1000,750,500], "format": "d", "labelExpr": "datum.value % 500 == 0 ? datum.label : ''", "title": "Wavenumber (cm⁻¹)", "tickSize": 4, "labelPadding": 3, "titlePadding": 2, "labelOverlap": false, "labelFlush": false}},
   "y": {"field": "y", "type": "quantitative", "scale": {"domain": [0, 255]}, "axis": {"title": "Absorbance", "labels": false, "ticks": false, "titlePadding": 12}}
  },
  "layer": [
   {"data": {"name": "spec"}, "transform": [{"filter": "datum.p == 'b'"}], "mark": {"type": "line", "strokeWidth": 1.1}, "encoding": {"color": {"field": "k", "type": "nominal", "scale": {"domain": [1,2,3,4,5,6,7,8,9], "range": ["#1a1a1a","#ff3a3a","#3535f5","#cc4fcc","#3838e8","#27b327","#5050e6","#6f8a2a","#8e2236"]}, "legend": null}}},
   {"data": {"name": "vl"}, "transform": [{"filter": "datum.p == 'b'"}], "mark": {"type": "rule", "color": "black", "strokeWidth": 1.2, "strokeDash": [1.5, 2]}, "encoding": {"y2": {"field": "y2"}}},
   {"data": {"name": "ar"}, "transform": [{"filter": "datum.p == 'b'"}], "mark": {"type": "rule", "color": "black", "strokeWidth": 1}, "encoding": {"x2": {"field": "x2"}, "y2": {"field": "y2"}}},
   {"data": {"name": "tl"}, "transform": [{"filter": "datum.p == 'b'"}], "mark": {"type": "text", "align": "left", "baseline": "middle", "fontSize": 13}, "encoding": {"text": {"field": "t"}}},
   {"data": {"name": "pl"}, "transform": [{"filter": "datum.p == 'b'"}], "mark": {"type": "text", "align": "center", "baseline": "middle", "fontSize": 11, "fontWeight": "bold"}, "encoding": {"text": {"field": "t"}}},
   {"data": {"name": "pn"}, "transform": [{"filter": "datum.p == 'b'"}], "mark": {"type": "text", "align": "center", "baseline": "middle", "fontSize": 31}, "encoding": {"text": {"field": "t"}}}
  ]
 },
 {"width": 317, "height": 255, "view": {"stroke": "black", "strokeWidth": 1},
  "encoding": {
   "x": {"field": "x", "type": "quantitative", "scale": {"domain": [4000, 500]}, "axis": {"values": [4000,3750,3500,3250,3000,2750,2500,2250,2000,1750,1500,1250,1000,750,500], "format": "d", "labelExpr": "datum.value % 500 == 0 ? datum.label : ''", "title": "Wavenumber (cm⁻¹)", "tickSize": 4, "labelPadding": 3, "titlePadding": 2, "labelOverlap": false, "labelFlush": false}},
   "y": {"field": "y", "type": "quantitative", "scale": {"domain": [0, 255]}, "axis": {"title": "Absorbance", "labels": false, "ticks": false, "titlePadding": 12}}
  },
  "layer": [
   {"data": {"name": "spec"}, "transform": [{"filter": "datum.p == 'c'"}], "mark": {"type": "line", "strokeWidth": 1.1}, "encoding": {"color": {"field": "k", "type": "nominal", "scale": {"domain": [1,2,3,4,5,6,7,8,9], "range": ["#1a1a1a","#ff3a3a","#3535f5","#cc4fcc","#3838e8","#27b327","#5050e6","#6f8a2a","#8e2236"]}, "legend": null}}},
   {"data": {"name": "vl"}, "transform": [{"filter": "datum.p == 'c'"}], "mark": {"type": "rule", "color": "black", "strokeWidth": 1.2, "strokeDash": [1.5, 2]}, "encoding": {"y2": {"field": "y2"}}},
   {"data": {"name": "ar"}, "transform": [{"filter": "datum.p == 'c'"}], "mark": {"type": "rule", "color": "black", "strokeWidth": 1}, "encoding": {"x2": {"field": "x2"}, "y2": {"field": "y2"}}},
   {"data": {"name": "tl"}, "transform": [{"filter": "datum.p == 'c'"}], "mark": {"type": "text", "align": "left", "baseline": "middle", "fontSize": 13}, "encoding": {"text": {"field": "t"}}},
   {"data": {"name": "pl"}, "transform": [{"filter": "datum.p == 'c'"}], "mark": {"type": "text", "align": "center", "baseline": "middle", "fontSize": 11, "fontWeight": "bold"}, "encoding": {"text": {"field": "t"}}},
   {"data": {"name": "pn"}, "transform": [{"filter": "datum.p == 'c'"}], "mark": {"type": "text", "align": "center", "baseline": "middle", "fontSize": 31}, "encoding": {"text": {"field": "t"}}}
  ]
 }
], "bounds": "flush", "spacing": 53, "align": "none"}
]
}
